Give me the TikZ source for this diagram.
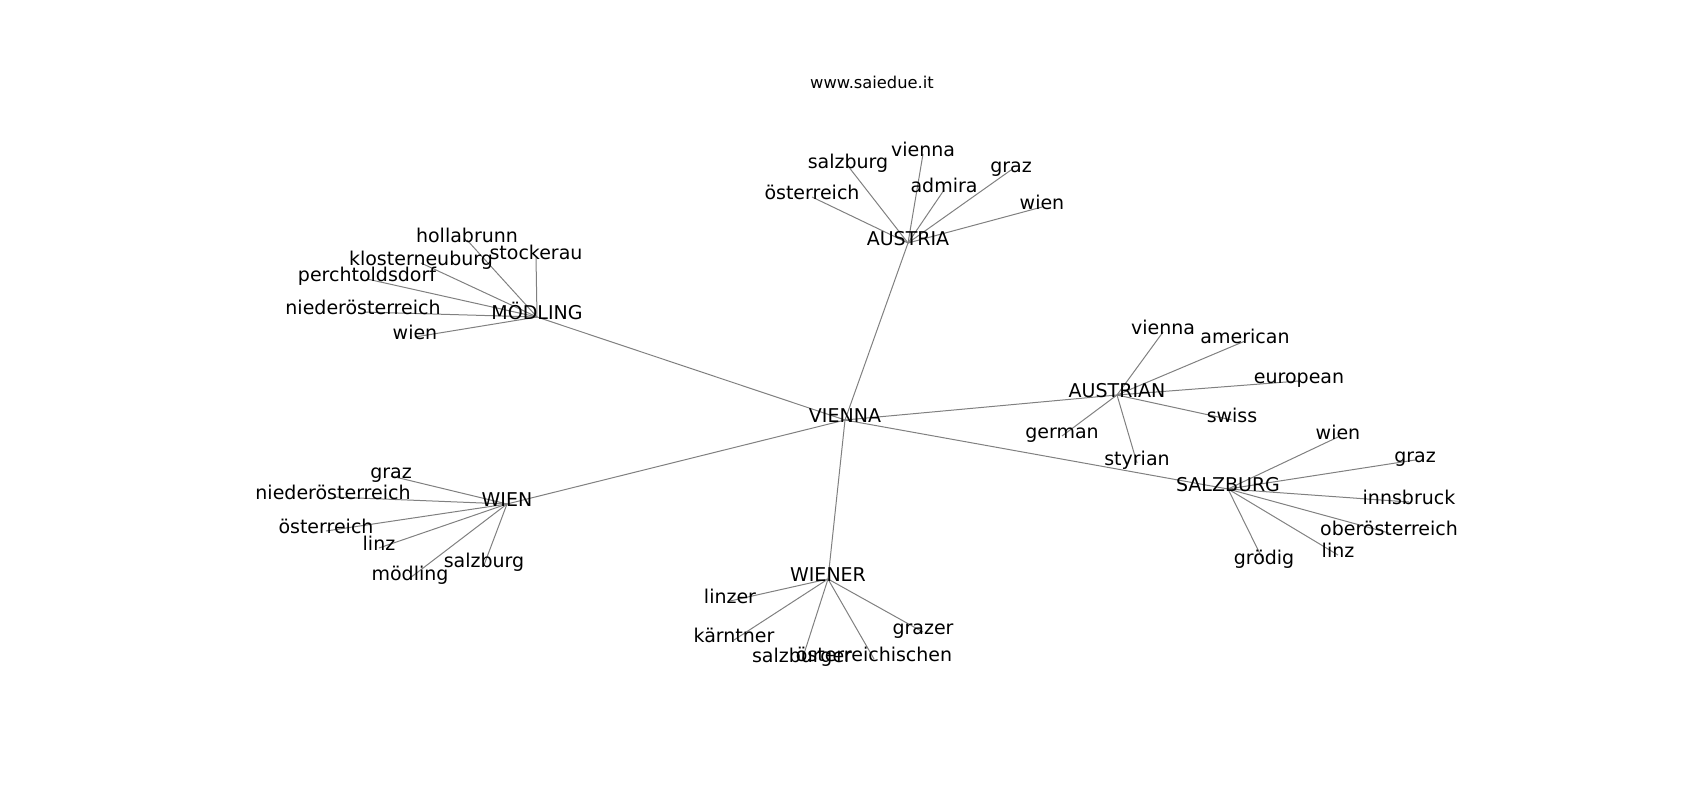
\documentclass[tikz,border=0pt]{standalone}
\usepackage{fontspec}
\setmainfont{DejaVu Sans}
\usetikzlibrary{backgrounds}

\begin{document}
\begin{tikzpicture}[x=1pt,y=-1pt]
	\tikzset{term/.style={inner sep=0pt,
				font=\fontsize{19}{19}\selectfont,
				text height=0.74em,
				text depth=0.26em,
				anchor=center},
			link/.style={draw=gray,
				line width=1pt}}
	\useasboundingbox (0,-4) rectangle (1700,796);

	% Title
	\node[term, font=\fontsize{16.3}{16.3}\selectfont] (title) at (872,82) {www.saiedue.it};

	% Nodes
	\node[term] (vienna) at (845,416) {VIENNA};

	\node[term] (austria) at (908,239) {AUSTRIA};
	\node[term] (a-oe) at (812,193) {österreich};
	\node[term] (a-sbg) at (848,162) {salzburg};
	\node[term] (a-vie) at (923,150) {vienna};
	\node[term] (a-adm) at (944,186) {admira};
	\node[term] (a-graz) at (1011,166) {graz};
	\node[term] (a-wien) at (1042,203) {wien};

	\node[term] (moedling) at (537,313) {MÖDLING};
	\node[term] (m-holl) at (467,236) {hollabrunn};
	\node[term] (m-stock) at (536,253) {stockerau};
	\node[term] (m-klost) at (421,259) {klosterneuburg};
	\node[term] (m-perch) at (367,275) {perchtoldsdorf};
	\node[term] (m-noe) at (363,308) {niederösterreich};
	\node[term] (m-wien) at (415,333) {wien};

	\node[term] (wien) at (507,500) {WIEN};
	\node[term] (w-graz) at (391,472) {graz};
	\node[term] (w-noe) at (333,493) {niederösterreich};
	\node[term] (w-oe) at (326,527) {österreich};
	\node[term] (w-linz) at (379,544) {linz};
	\node[term] (w-sbg) at (484,561) {salzburg};
	\node[term] (w-moed) at (410,574) {mödling};

	\node[term] (wiener) at (828,575) {WIENER};
	\node[term] (r-linzer) at (730,597) {linzer};
	\node[term] (r-kaernt) at (734,636) {kärntner};
	\node[term] (r-grazer) at (923,628) {grazer};
	\node[term] (r-sbgr) at (802,656) {salzburger};
	\node[term] (r-oest) at (874,655) {österreichischen};

	\node[term] (austrian) at (1117,391) {AUSTRIAN};
	\node[term] (n-vie) at (1163,328) {vienna};
	\node[term] (n-amer) at (1245,337) {american};
	\node[term] (n-euro) at (1299,377) {european};
	\node[term] (n-swiss) at (1232,416) {swiss};
	\node[term] (n-german) at (1062,432) {german};
	\node[term] (n-styr) at (1137,459) {styrian};

	\node[term] (salzburg) at (1228,485) {SALZBURG};
	\node[term] (s-wien) at (1338,433) {wien};
	\node[term] (s-graz) at (1415,456) {graz};
	\node[term] (s-inns) at (1409,498) {innsbruck};
	\node[term] (s-ooe) at (1389,529) {oberösterreich};
	\node[term] (s-linz) at (1338,551) {linz};
	\node[term] (s-groed) at (1264,558) {grödig};

	% Links
	\begin{pgfonlayer}{background}
	\draw[link] (vienna.center) -- (austria.center);
	\draw[link] (vienna.center) -- (moedling.center);
	\draw[link] (vienna.center) -- (wien.center);
	\draw[link] (vienna.center) -- (wiener.center);
	\draw[link] (vienna.center) -- (austrian.center);
	\draw[link] (vienna.center) -- (salzburg.center);

	\draw[link] (austria.center) -- (a-oe.center);
	\draw[link] (austria.center) -- (a-sbg.center);
	\draw[link] (austria.center) -- (a-vie.center);
	\draw[link] (austria.center) -- (a-adm.center);
	\draw[link] (austria.center) -- (a-graz.center);
	\draw[link] (austria.center) -- (a-wien.center);

	\draw[link] (moedling.center) -- (m-holl.center);
	\draw[link] (moedling.center) -- (m-stock.center);
	\draw[link] (moedling.center) -- (m-klost.center);
	\draw[link] (moedling.center) -- (m-perch.center);
	\draw[link] (moedling.center) -- (m-noe.center);
	\draw[link] (moedling.center) -- (m-wien.center);

	\draw[link] (wien.center) -- (w-graz.center);
	\draw[link] (wien.center) -- (w-noe.center);
	\draw[link] (wien.center) -- (w-oe.center);
	\draw[link] (wien.center) -- (w-linz.center);
	\draw[link] (wien.center) -- (w-sbg.center);
	\draw[link] (wien.center) -- (w-moed.center);

	\draw[link] (wiener.center) -- (r-linzer.center);
	\draw[link] (wiener.center) -- (r-kaernt.center);
	\draw[link] (wiener.center) -- (r-grazer.center);
	\draw[link] (wiener.center) -- (r-sbgr.center);
	\draw[link] (wiener.center) -- (r-oest.center);

	\draw[link] (austrian.center) -- (n-vie.center);
	\draw[link] (austrian.center) -- (n-amer.center);
	\draw[link] (austrian.center) -- (n-euro.center);
	\draw[link] (austrian.center) -- (n-swiss.center);
	\draw[link] (austrian.center) -- (n-german.center);
	\draw[link] (austrian.center) -- (n-styr.center);

	\draw[link] (salzburg.center) -- (s-wien.center);
	\draw[link] (salzburg.center) -- (s-graz.center);
	\draw[link] (salzburg.center) -- (s-inns.center);
	\draw[link] (salzburg.center) -- (s-ooe.center);
	\draw[link] (salzburg.center) -- (s-linz.center);
	\draw[link] (salzburg.center) -- (s-groed.center);
	\end{pgfonlayer}
\end{tikzpicture}
\end{document}
